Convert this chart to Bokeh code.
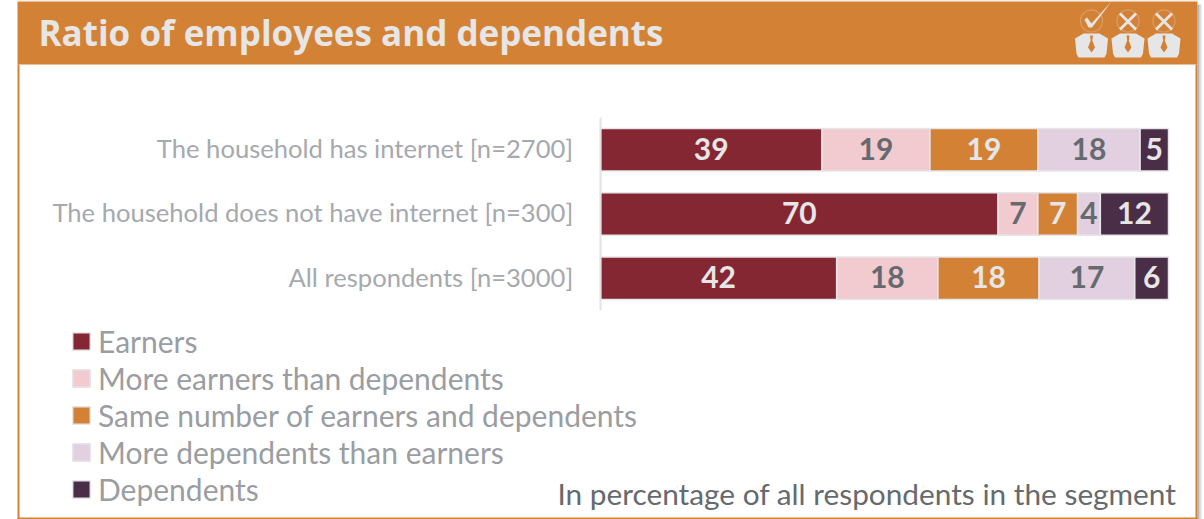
from bokeh.plotting import figure
from bokeh.models import (ColumnDataSource, Range1d, Label, PolyAnnotation, Legend, LegendItem,
                          FixedTicker)
from bokeh.core.properties import value
from bokeh.embed import file_html
from bokeh.resources import INLINE
import math

W, H = 1204, 519

title = "Ratio of employees and dependents"
note = "In percentage of all respondents in the segment"
segments = ["The household has internet [n=2700]",
            "The household does not have internet [n=300]",
            "All respondents [n=3000]"]
series = ["Earners", "More earners than dependents",
          "Same number of earners and dependents",
          "More dependents than earners", "Dependents"]
earners = [39, 70, 42]
more_earners = [19, 7, 18]
same_number = [19, 7, 18]
more_dependents = [18, 4, 17]
dependents = [5, 12, 6]
colors = ["#852633", "#F2CBD1", "#D38235", "#E2D0E0", "#4A2D47"]
label_colors = ["#E7E6E6", "#666A6E", "#E7E6E6", "#666A6E", "#E7E6E6"]
ORANGE = "#D38235"
CREAM = "#E7E6E6"

rows = [earners, more_earners, same_number, more_dependents, dependents]
totals = [sum(r[i] for r in rows) for i in range(3)]

# the frame fills the window; the ranges place 0-100 % and the three rows inside it
ZERO_PX = 600.0
PX_PER_PCT = 5.68
ROW_PX = 64.3
TOP_ROW_PX = 149.2
positions = [2, 1, 0]
x_range = Range1d(-ZERO_PX / PX_PER_PCT, (W - ZERO_PX) / PX_PER_PCT)
y_range = Range1d(2 - (H - TOP_ROW_PX) / ROW_PX, 2 + TOP_ROW_PX / ROW_PX)

p = figure(width=W, height=H, output_backend="svg", toolbar_location=None,
           x_range=x_range, y_range=y_range, min_border=0,
           background_fill_color="white", border_fill_color="white", outline_line_color=None)
p.grid.visible = False
p.xaxis.visible = False
yax = p.yaxis[0]
yax.fixed_location = -0.05
yax.bounds = (-0.5, 2.5)
# tick labels sit a touch above the row centres
tick_positions = [2.025, 1.025, 0.025]
yax.ticker = FixedTicker(ticks=tick_positions)
yax.major_label_overrides = {pos: seg for pos, seg in zip(tick_positions, segments)}
yax.axis_line_color = "#E3E3E3"
yax.axis_line_width = 2
yax.major_tick_line_color = None
yax.minor_tick_line_color = None
yax.major_tick_out = 0
yax.major_label_text_font = "Lato"
yax.major_label_text_font_size = "25.6px"
yax.major_label_text_color = "#A6A9AD"
yax.major_label_standoff = 27

# 100 % stacked rows: each row is scaled by its own rounded total
data = {"pos": positions}
for name, r in zip(series, rows):
    data[name] = [100 * v / t for v, t in zip(r, totals)]
source = ColumnDataSource(data)
stack = p.hbar_stack(series, y="pos", height=0.66, color=colors, source=source,
                     line_color="#E6E6E9", line_width=1.5)

# value labels centred in their segments
cum = [0, 0, 0]
for r, c in zip(rows, label_colors):
    xs, texts = [], []
    for i in range(3):
        share = 100 * r[i] / totals[i]
        xs.append(cum[i] + share / 2)
        cum[i] += share
        texts.append(str(r[i]))
    p.text(x=xs, y=positions, text=texts, text_color=c, text_font=value("Lato"),
           text_font_size="30px", text_font_style="bold", text_align="center",
           text_baseline="middle", y_offset=-1)

legend = Legend(items=[LegendItem(label=s, renderers=[g]) for s, g in zip(series, stack)],
                location=(70, 12), orientation="vertical", border_line_color=None,
                background_fill_alpha=0, margin=0, padding=0, spacing=0,
                glyph_width=22, glyph_height=22, label_height=37,
                label_text_font="Lato", label_text_font_size="30px",
                label_text_color="#9A9DA2", label_standoff=6)
p.add_layout(legend, "center")


def box(left, right, top, bottom, color, alpha=1.0):
    # rectangle given in canvas pixels, measured from the top left corner
    p.add_layout(PolyAnnotation(xs=[left, right, right, left], ys=[top, top, bottom, bottom],
                                xs_units="canvas", ys_units="canvas",
                                fill_color=color, fill_alpha=alpha, line_color=None,
                                level="underlay"))


def shape(xs, ys, fill, line=None, width=1):
    p.add_layout(PolyAnnotation(xs=xs, ys=ys, xs_units="canvas", ys_units="canvas",
                                fill_color=fill, line_color=line, line_width=width,
                                fill_alpha=1 if fill else 0, level="overlay"))


# panel: header band, thin border and soft shadow at the right
box(17, 1197, 1, 64, ORANGE)
box(17, 1197, 0, 1, "#E8C3A0")
box(17, 19, 64, 519, ORANGE)
box(1195, 1197, 64, 518, ORANGE)
box(17, 1197, 517, 519, ORANGE)
box(1197, 1199, 4, 519, "#9A9A9A", 0.7)
box(1199, 1201, 4, 519, "#BDBDBD", 0.5)


def ring(cx, cy, r):
    pts = [i * 2 * math.pi / 40 for i in range(40)]
    shape([cx + r * math.cos(a) for a in pts], [cy + r * math.sin(a) for a in pts],
          None, CREAM, 1.2)


def person(cx):
    # shoulders and tie
    shape([cx - 8, cx + 8, cx + 16.5, cx + 15, cx + 13, cx - 13, cx - 15, cx - 16.5],
          [33, 33, 38, 53, 57, 57, 53, 38], CREAM)
    shape([cx - 1.5, cx + 1.5, cx + 0.8, cx + 3.5, cx, cx - 3.5, cx - 0.8],
          [35, 35, 40, 47, 52, 47, 40], ORANGE)


for cx in (1091, 1127.5, 1163.5):
    person(cx)
    ring(cx, 20.5, 11)
shape([1084, 1086.5, 1091, 1111, 1091.5, 1088], [19, 17, 23, 1, 27, 27], CREAM)
for cx in (1127.5, 1163.5):
    shape([cx - 9, cx - 7, cx + 9, cx + 7], [14, 12, 28, 30], CREAM)
    shape([cx + 9, cx + 7, cx - 9, cx - 7], [14, 12, 28, 30], CREAM)

# header title and footnote
p.add_layout(Label(x=38, y=H - 32, x_units="screen", y_units="screen", text=title,
                   text_font="Open Sans", text_font_size="35px", text_font_style="bold",
                   text_color=CREAM, text_baseline="middle", text_align="left"))
p.add_layout(Label(x=1176, y=H - 493, x_units="screen", y_units="screen", text=note,
                   text_font="Lato", text_font_size="29.8px", text_color="#666A6E",
                   text_baseline="middle", text_align="right"))

open("out.html", "w").write(file_html(p, INLINE))
